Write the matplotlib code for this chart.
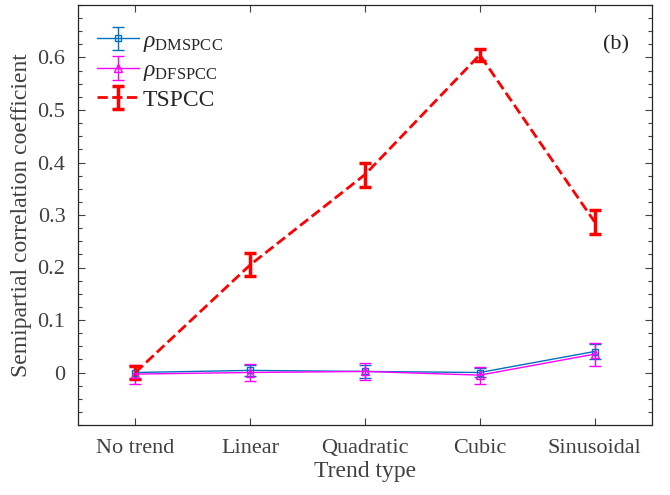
import numpy as np
import matplotlib
matplotlib.use('Agg')
import matplotlib.pyplot as plt
from matplotlib.ticker import MultipleLocator

plt.rcParams['font.family'] = ['Liberation Serif', 'DejaVu Serif']
plt.rcParams['mathtext.fontset'] = 'custom'
plt.rcParams['mathtext.rm'] = 'Liberation Serif'
plt.rcParams['mathtext.it'] = 'Liberation Serif:italic'

# 趋势类型
trends = ['No trend', 'Linear', 'Quadratic', 'Cubic', 'Sinusoidal']

# 各系数均值及误差
dmspcc = [0.000, 0.004, 0.002, 0.000, 0.040]
dmspcc_err = [0.012, 0.010, 0.012, 0.009, 0.015]
dfspcc = [-0.003, 0.000, 0.002, -0.005, 0.035]
dfspcc_err = [0.018, 0.016, 0.017, 0.016, 0.022]
tspcc = [0.000, 0.205, 0.377, 0.605, 0.287]
tspcc_err = [0.012, 0.022, 0.023, 0.012, 0.023]

x = np.arange(1, len(trends) + 1)
txt_color = '#404040'

fig = plt.figure(figsize=(6.7, 4.95), dpi=100)
ax = fig.add_axes([78 / 670, 70 / 495, 574 / 670, 420 / 495])

ax.errorbar(x, dmspcc, yerr=dmspcc_err, color='#0072BD', lw=1, marker='s',
            ms=5, mfc='none', mew=1, capsize=4, elinewidth=1,
            label=r'$\rho_{\mathrm{DMSPCC}}$')
ax.errorbar(x, dfspcc, yerr=dfspcc_err, color='#FF00FF', lw=1, marker='^',
            ms=6, mfc='none', mew=1, capsize=4, elinewidth=1,
            label=r'$\rho_{\mathrm{DFSPCC}}$')
ax.errorbar(x, tspcc, yerr=tspcc_err, color='#FF0000', lw=2, ls='--',
            capsize=4, elinewidth=2.5, capthick=2.5, label='TSPCC')

ax.set_xlim(0.5, 5.5)
ax.set_ylim(-0.1, 0.7)
ax.set_xticks(x)
ax.set_xticklabels(trends)
ax.set_yticks(np.arange(0, 0.61, 0.1))
ax.set_yticklabels(['0', '0.1', '0.2', '0.3', '0.4', '0.5', '0.6'])
ax.yaxis.set_minor_locator(MultipleLocator(0.025))

ax.tick_params(which='both', direction='in', top=True, right=True,
               labelsize=16, colors='#404040', labelcolor=txt_color)
ax.tick_params(which='major', length=5, width=0.8)
ax.tick_params(axis='y', which='major', pad=9)
ax.tick_params(axis='x', which='major', pad=10)
ax.tick_params(which='minor', length=3, width=0.8)
ax.tick_params(axis='x', which='minor', top=False, bottom=False)
for s in ax.spines.values():
    s.set_color('#262626')
    s.set_linewidth(0.9)

ax.set_xlabel('Trend type', fontsize=17, color=txt_color, labelpad=2)
ax.set_ylabel('Semipartial correlation coefficient', fontsize=17,
              color=txt_color, labelpad=4)

ax.text(0.96, 0.905, '(b)', transform=ax.transAxes, fontsize=16,
        ha='right', va='center', color='#262626')

leg = ax.legend(loc='upper left', frameon=False, fontsize=17,
                handlelength=1.8, handletextpad=0.15, labelspacing=0.25,
                borderaxespad=0.4, bbox_to_anchor=(0.0, 0.985))
for t in leg.get_texts():
    t.set_color('#262626')

fig.savefig('out.png', dpi=100)
